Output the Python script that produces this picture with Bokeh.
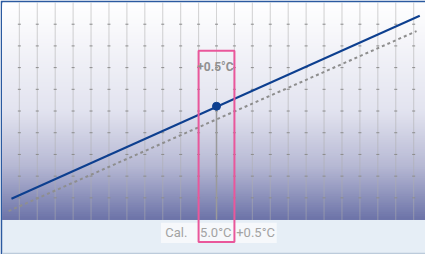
from bokeh.plotting import figure
from bokeh.models import Range1d, Span
from bokeh.core.properties import value
from bokeh.embed import file_html
from bokeh.resources import INLINE

# ---- data ----
grid_x = [-0.5 + 0.5 * i for i in range(23)]          # vertical grid lines (°C)
tick_y = [1, 2, 3, 4, 5, 6, 7, 8, 9]                   # small tick marks on the grid lines
measured_x = [-0.72, 10.67]                            # solid (measured) line
measured_y = [0.96, 9.39]
reference_x = [-0.80, 10.58]                           # dotted (reference) line
reference_y = [0.39, 8.68]
cal_point_x = [5.0]
cal_point_y = [5.22]
offset_label = "+0.5°C"
bottom_labels = ["Cal.", "5.0°C", "+0.5°C"]
bottom_label_x = [3.88, 4.98, 6.09]

# ---- figure ----
p = figure(width=425, height=254, output_backend="svg", toolbar_location=None,
           x_range=Range1d(-0.97, 10.83), y_range=Range1d(-1.61, 10.0),
           min_border_left=2, min_border_top=2, min_border_right=0, min_border_bottom=0)
p.axis.visible = False
p.grid.visible = False
p.outline_line_color = None
p.background_fill_color = "#e6eef6"
p.border_fill_color = "#2b5aa0"

# vertical gradient (white at top -> blue-violet at bottom); stacked bands avoid seams
stops = [(0.0, (255, 255, 255)), (0.5, (226, 227, 239)), (0.75, (183, 185, 212)), (1.0, (108, 115, 168))]
def grad(t):
    for (t0, c0), (t1, c1) in zip(stops[:-1], stops[1:]):
        if t0 <= t <= t1:
            f = (t - t0) / (t1 - t0)
            return "#%02x%02x%02x" % tuple(int(round(a + (b - a) * f)) for a, b in zip(c0, c1))
    return "#%02x%02x%02x" % stops[-1][1]
N = 120
tops = [10 - 10 * i / N for i in range(N)]
cols = [grad((i + 0.5) / N) for i in range(N)]
p.quad(left=-2, right=12, top=tops, bottom=[0] * N, fill_color=cols, line_color=None)

# grid lines + little tick marks
p.segment(x0=grid_x, y0=[0] * len(grid_x), x1=grid_x, y1=[10] * len(grid_x),
          line_color="#adadad", line_width=1.1, line_dash="1 1")
tx = [gx for gx in grid_x for _ in tick_y]
ty = [y for _ in grid_x for y in tick_y]
p.scatter(tx, ty, marker="dash", size=3, line_color="#8c8c8c", line_width=1)

# bottom border line
p.add_layout(Span(location=-1.575, dimension="width", line_color="#bccbdb", line_width=2))

# reference dotted line
p.line(reference_x, reference_y, line_color="#8e8e8e", line_width=2, line_dash="3 3")

# drop line from calibration point
p.segment(x0=cal_point_x, y0=[0], x1=cal_point_x, y1=cal_point_y, line_color="#9a9a9a", line_width=1.5)

# measured line and point
p.line(measured_x, measured_y, line_color="#0d3f8f", line_width=2)
p.scatter(cal_point_x, cal_point_y, size=8, fill_color="#0d3f8f", line_color="#0d3f8f")

# bottom label box and labels
p.quad(left=3.45, right=6.68, bottom=-1.08, top=-0.15, fill_color="#f6f8fb", line_color=None)
p.text(bottom_label_x, [-0.6] * 3, text=bottom_labels, text_align="center", text_baseline="middle",
       text_font=value("Roboto"), text_font_size="13px", text_color="#a3a3a3")

# highlight box
p.quad(left=4.5, right=5.5, bottom=-1.03, top=7.78, fill_alpha=0,
       line_color="#e9579b", line_width=2)
p.text([4.97], [7.05], text=[offset_label], text_align="center", text_baseline="middle",
       text_font=value("Roboto"), text_font_size="12px", text_font_style="bold", text_color="#909090")

open("out.html", "w").write(file_html(p, INLINE))
